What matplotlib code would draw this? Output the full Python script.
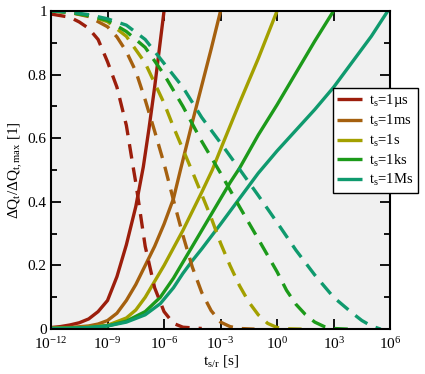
import matplotlib
matplotlib.use("Agg")
import matplotlib.pyplot as plt
import numpy as np

plt.rcParams["font.family"] = "Liberation Serif"
plt.rcParams["mathtext.fontset"] = "custom"
plt.rcParams["mathtext.rm"] = "Liberation Serif"
plt.rcParams["mathtext.it"] = "Liberation Serif:italic"
plt.rcParams["lines.scale_dashes"] = False

labels = ["t$_\\mathrm{s}$=1µs", "t$_\\mathrm{s}$=1ms", "t$_\\mathrm{s}$=1s",
          "t$_\\mathrm{s}$=1ks", "t$_\\mathrm{s}$=1Ms"]
colors = ["#9c1e0c", "#a5600f", "#a3a000", "#1c9a1a", "#0f9a6e"]

# charging curves (solid): log10(t) and normalised charge
charge_x = [
    [-12, -11.5, -11, -10.5, -10, -9.5, -9, -8.5, -8, -7.5, -7.1, -6.8, -6.5, -6.25, -6.0],
    [-12, -11, -10, -9.5, -9, -8.5, -8, -7.5, -7, -6.5, -6, -5.5, -5.13, -4.5, -4, -3.5, -3],
    [-12, -11, -10, -9, -8, -7.5, -7, -6.5, -6, -5.5, -5, -4.5, -4, -3.44, -3, -2, -1, 0],
    [-12, -11, -10, -9, -8, -7, -6.2, -5.5, -5, -4.5, -4, -3.5, -3, -2.5, -2, -1, 0, 1, 2, 3],
    [-12, -11, -10, -9, -8, -7, -6.2, -5.5, -5, -4.5, -4, -3, -2, -1, 0, 1, 2, 3, 4, 5,
     5.88],
]
charge_y = [
    [0.005, 0.008, 0.013, 0.02, 0.032, 0.055, 0.09, 0.165, 0.265, 0.385, 0.51, 0.63, 0.76,
     0.88, 1.0],
    [0.003, 0.005, 0.01, 0.016, 0.027, 0.05, 0.09, 0.14, 0.2, 0.26, 0.33, 0.41, 0.5, 0.65,
     0.765, 0.88, 1.0],
    [0.003, 0.004, 0.006, 0.012, 0.035, 0.06, 0.1, 0.15, 0.2, 0.255, 0.31, 0.37, 0.43, 0.5,
     0.565, 0.71, 0.85, 1.0],
    [0.002, 0.003, 0.005, 0.01, 0.025, 0.055, 0.1, 0.16, 0.21, 0.26, 0.31, 0.36, 0.41,
     0.46, 0.505, 0.61, 0.705, 0.805, 0.905, 1.0],
    [0.002, 0.003, 0.005, 0.01, 0.022, 0.045, 0.08, 0.13, 0.175, 0.215, 0.252, 0.33, 0.41,
     0.49, 0.56, 0.625, 0.69, 0.76, 0.84, 0.92, 1.0],
]

# discharging curves (dashed)
dis_x = [
    [-12, -11, -10.5, -10, -9.5, -9, -8.5, -8, -7.67, -7.5, -7, -6.5, -6, -5.5, -5, -4],
    [-12, -11, -10, -9, -8.5, -8, -7.5, -7, -6.5, -6, -5.5, -5, -4.5, -4, -3.5, -3, -2.5,
     -2, -1.2],
    [-12, -11, -10, -9, -8, -7, -6, -5.5, -5, -4.5, -4, -3.5, -3, -2.5, -2, -1.5, -1, -0.5,
     0, 0.6, 1.3],
    [-12, -11, -10, -9, -8, -7, -6, -5, -4, -3, -2, -1, 0, 0.5, 1, 1.5, 2, 2.5, 3, 3.75],
    [-12, -11, -10, -9, -8, -7, -6, -5, -4, -3, -2, -1, 0, 1, 2, 3, 4, 4.5, 5, 5.5],
]
dis_y = [
    [0.99, 0.98, 0.965, 0.945, 0.91, 0.84, 0.76, 0.64, 0.52, 0.46, 0.26, 0.13, 0.055, 0.018,
     0.006, 0.002],
    [1.0, 0.995, 0.982, 0.95, 0.918, 0.872, 0.81, 0.72, 0.622, 0.52, 0.405, 0.295, 0.195,
     0.115, 0.058, 0.022, 0.008, 0.002, 0.0],
    [1.0, 0.995, 0.985, 0.966, 0.92, 0.836, 0.71, 0.635, 0.565, 0.495, 0.423, 0.35, 0.27,
     0.2, 0.137, 0.085, 0.045, 0.018, 0.005, 0.001, 0.0],
    [1.0, 0.995, 0.985, 0.97, 0.935, 0.885, 0.8, 0.7, 0.59, 0.49, 0.385, 0.283, 0.18, 0.122,
     0.078, 0.046, 0.022, 0.008, 0.002, 0.0],
    [1.0, 0.996, 0.988, 0.975, 0.955, 0.91, 0.835, 0.76, 0.665, 0.585, 0.503, 0.42, 0.335,
     0.248, 0.17, 0.1, 0.05, 0.027, 0.01, 0.0],
]

x_ticks = [1e-12, 1e-9, 1e-6, 1e-3, 1e0, 1e3, 1e6]
x_ticklabels = ["$10^{-12}$", "$10^{-9}$", "$10^{-6}$", "$10^{-3}$", "$10^{0}$",
                "$10^{3}$", "$10^{6}$"]
y_ticks = [0, 0.2, 0.4, 0.6, 0.8, 1]
y_ticklabels = ["0", "0.2", "0.4", "0.6", "0.8", "1"]

fig = plt.figure(figsize=(4.25, 3.74), dpi=100)
ax = fig.add_axes([0.12, 0.12, 0.798, 0.851])
ax.set_facecolor("#f0f0f0")

for i in range(5):
    ax.plot(10.0 ** np.array(charge_x[i]), charge_y[i], color=colors[i], lw=2.4,
            label=labels[i], solid_capstyle="butt")
for i in range(5):
    ax.plot(10.0 ** np.array(dis_x[i]), dis_y[i], color=colors[i], lw=2.4,
            dashes=(10.5, 6.5), dash_capstyle="butt")

ax.set_xscale("log")
ax.set_xlim(1e-12, 1e6)
ax.set_ylim(0, 1)
ax.set_xticks(x_ticks)
ax.set_xticklabels(x_ticklabels)
ax.xaxis.set_minor_locator(matplotlib.ticker.NullLocator())
ax.set_yticks(y_ticks)
ax.set_yticklabels(y_ticklabels)
ax.set_yticks(np.arange(0.1, 1.0, 0.2), minor=True)
ax.tick_params(which="both", direction="in", top=True, right=True, labelsize=11,
               width=1.3)
ax.tick_params(which="major", length=7)
ax.tick_params(which="minor", length=4)
ax.tick_params(axis="x", pad=5)
ax.tick_params(axis="y", pad=3)
for s in ax.spines.values():
    s.set_linewidth(1.5)

ax.set_xlabel("t$_\\mathrm{s/r}$ [s]", fontsize=11, labelpad=1)
ax.set_ylabel("ΔQ$_\\mathrm{t}$/ΔQ$_\\mathrm{t,max}$ [1]", fontsize=11, labelpad=2)

leg = ax.legend(loc="upper left", bbox_to_anchor=(333 / 425, 1 - 88 / 374),
                bbox_transform=fig.transFigure, fontsize=10.5, handlelength=1.7,
                frameon=True, fancybox=False, borderaxespad=0, labelspacing=0.25,
                handletextpad=0.5, borderpad=0.3)
leg.get_frame().set_edgecolor("black")
leg.get_frame().set_linewidth(1.0)
leg.get_frame().set_alpha(1)

fig.savefig("out.png", dpi=100)
